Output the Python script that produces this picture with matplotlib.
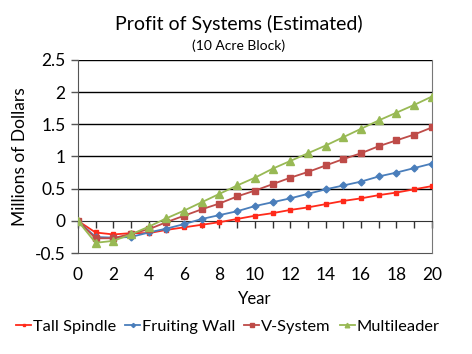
import numpy as np
import matplotlib
matplotlib.use("Agg")
import matplotlib.pyplot as plt

plt.rcParams['font.family'] = ['Lato', 'DejaVu Sans']

years = np.arange(0, 21)
tall_spindle = [0, -0.18, -0.21, -0.19, -0.19, -0.14, -0.10, -0.06, -0.02, 0.03, 0.08,
                0.12, 0.17, 0.21, 0.26, 0.31, 0.35, 0.40, 0.44, 0.49, 0.54]
fruiting_wall = [0, -0.25, -0.26, -0.25, -0.18, -0.12, -0.05, 0.03, 0.09, 0.15, 0.23,
                 0.29, 0.35, 0.42, 0.49, 0.55, 0.61, 0.69, 0.75, 0.82, 0.89]
v_system = [0, -0.27, -0.27, -0.20, -0.13, -0.02, 0.08, 0.18, 0.27, 0.38, 0.47,
            0.57, 0.67, 0.76, 0.86, 0.96, 1.05, 1.16, 1.25, 1.34, 1.45]
multileader = [0, -0.34, -0.31, -0.21, -0.09, 0.04, 0.16, 0.29, 0.42, 0.55, 0.67,
               0.81, 0.93, 1.05, 1.17, 1.30, 1.43, 1.56, 1.68, 1.80, 1.93]

fig = plt.figure(figsize=(4.72, 3.54), dpi=100)
ax = fig.add_axes([0.165, 0.285, 0.75, 0.546])

# horizontal gridlines
for g in np.arange(0.5, 2.51, 0.5):
    ax.axhline(g, color='black', lw=1.0, zorder=1)

ax.plot(years, tall_spindle, color='#FF2A1A', marker='s', ms=3.5, lw=1.3, label='Tall Spindle', zorder=3)
ax.plot(years, fruiting_wall, color='#4A7EBB', marker='D', ms=3.5, lw=1.3, label='Fruiting Wall', zorder=3)
ax.plot(years, v_system, color='#BE4B48', marker='s', ms=5, lw=1.3, label='V-System', zorder=3)
ax.plot(years, multileader, color='#98B954', marker='^', ms=5.5, lw=1.3, label='Multileader', zorder=3)

ax.set_xlim(0, 20)
ax.set_ylim(-0.5, 2.5)
ax.set_yticks(np.arange(-0.5, 2.51, 0.5))
ax.set_yticklabels(['-0.5', '0', '0.5', '1', '1.5', '2', '2.5'])
ax.tick_params(axis='y', direction='out', length=5, width=1, color='#555555', labelsize=12.5, pad=4)

# x axis line crosses at zero, with ticks hanging down
ax.spines['bottom'].set_position(('data', 0))
ax.spines['bottom'].set_color('#333333')
ax.set_xticks(years)
ax.tick_params(axis='x', direction='out', length=5, width=1, color='#333333', labelbottom=False)
ax.spines['left'].set_color('#555555')
ax.spines['right'].set_color('#777777')
ax.spines['top'].set_visible(False)

# labels sit along the box bottom
sec = ax.secondary_xaxis(0)
sec.set_xticks(np.arange(0, 21, 2))
sec.tick_params(length=0, labelsize=12.5, pad=10)
sec.spines['bottom'].set_color('#555555')
sec.set_xlabel('Year', fontsize=12, labelpad=6)

ax.set_ylabel('Millions of Dollars', fontsize=12.5, labelpad=5)

fig.text(0.505, 0.932, 'Profit of Systems (Estimated)', ha='center', va='center', fontsize=14)
fig.text(0.505, 0.872, '(10 Acre Block)', ha='center', va='center', fontsize=10)

fig.legend(loc='center', bbox_to_anchor=(0.483, 0.078), ncol=4, frameon=False, fontsize=11.8,
           handlelength=0.9, handletextpad=0.12, columnspacing=0.55, markerscale=0.6)

fig.savefig('out.png', dpi=100)
